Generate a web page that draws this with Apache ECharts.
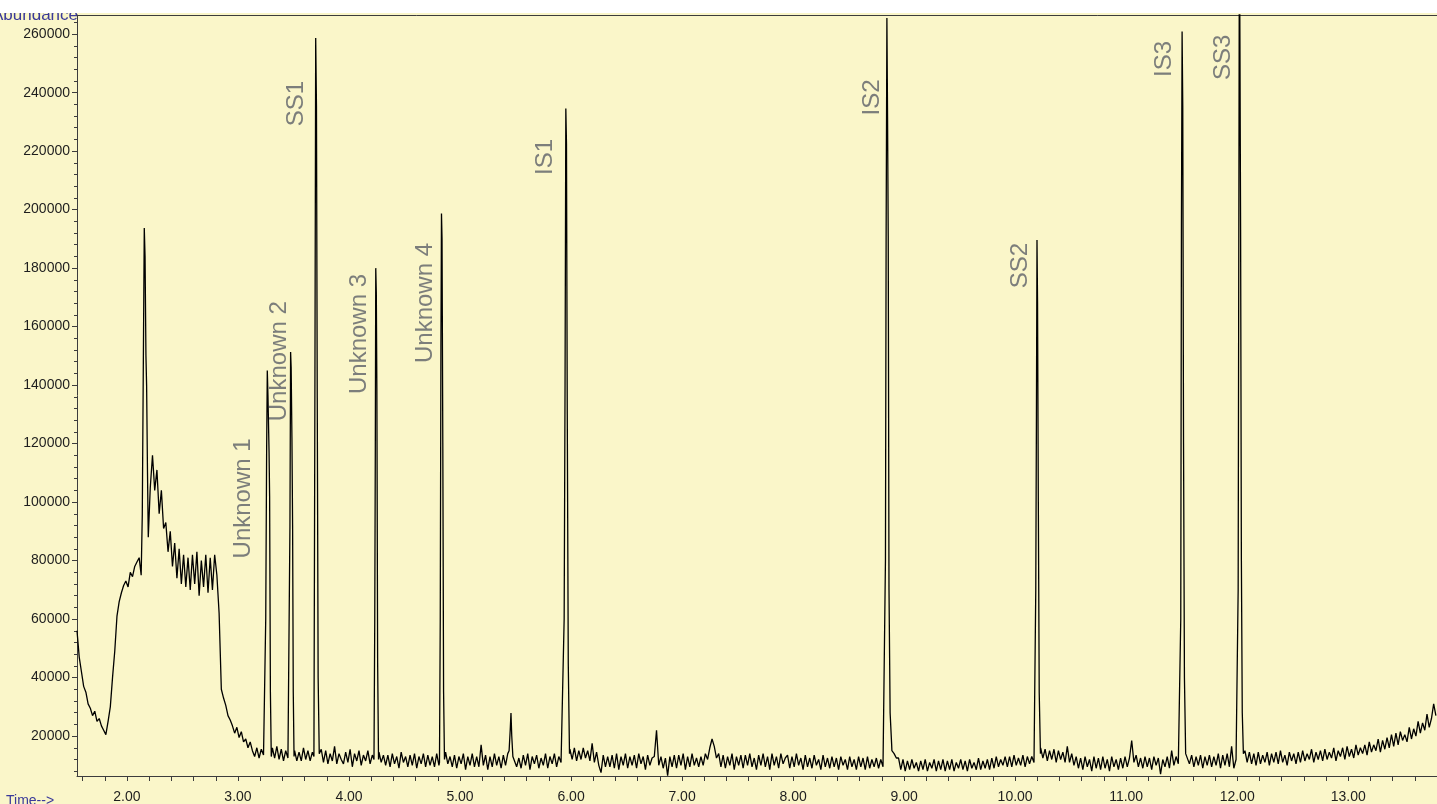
<!DOCTYPE html>
<html>
<head>
<meta charset="utf-8">
<title>Total ion chromatogram</title>
<script src="https://cdn.jsdelivr.net/npm/echarts@6/dist/echarts.min.js"></script>
<style>
  html, body { margin: 0; padding: 0; background: #ffffff; }
  #chart { position: absolute; left: 0; top: 13px; width: 1437px; height: 791px; }
</style>
</head>
<body>
<div id="chart"></div>
<script>
const PAPER = "#faf6c9"
const AXIS = "#3c3c3c"
const INK = "#000000"
const LABEL_GRAY = "#5c6068"
const TITLE_BLUE = "#3a3a9a"
const FONT = "\"Liberation Sans\", Arial, sans-serif"

const TIME_MIN = 1.55
const TIME_MAX = 13.8
const ABUNDANCE_MIN = 6350
const ABUNDANCE_MAX = 266550

// baseline trace, one reading every 0.02 min from 1.55, abundance in thousands
// null = that stretch is drawn by the detailed peak trace below
const sampleStart = 1.55
const sampleStep = 0.02
const baseline = [
  56, 47, 42, 37, 35, 31, 29.5, 27, 28.5, 25,
  26, 23.5, 22, 20.5, 25, 30, 40, 49, 61, 66,
  69, 71.5, 73, 71, 76, 74.5, 78, 79.5, 81, null,
  null, null, null, 105, 116, 104, 111, 96, 104, 91,
  93, 83, 90, 78, 86, 74, 84, 72, 82, 71,
  81, 70, 82, 72, 83, 68, 80, 71, 82, 69,
  81, 70, 82, 75, 62, 36, 33, 30.5, 27, 25.5,
  23.5, 21, 23, 19.5, 21.5, 18, 19, 16, 18, 15,
  13, 16, 12.5, 15.5, 13.5, null, null, null, 16, 12.5,
  16.5, 12, 15.5, 11.5, 15, 12.5, null, null, 15, 11.5,
  14.5, 11.5, 16, 12, 15, 11.5, 14.5, null, null, null,
  15.5, 11, 15, 10.5, 14, 11.5, 16.5, 10.5, 14, 12,
  10.5, 14.5, 11, 15.5, 9.5, 14, 11.5, 15, 10, 13.5,
  11.5, 15, 10.5, 13.5, null, null, 14.5, 11, 13.5, 10,
  13.5, 9.5, 14, 10.5, 13, 9, 14.5, 11, 13, 9.5,
  13.5, 10, 14, 9, 13, 10.5, 14, 9.5, 13.5, 10,
  13, 9.5, 14, 10, null, null, 14.5, 10.5, 13, 9.5,
  13.5, 9, 13, 10.5, 14, 8.5, 13, 10, 14, 9.5,
  13, 9.5, 17, 10, 13.5, 8.5, 13, 9.5, 14, 10,
  13, 9, 13.5, 10, 14, null, null, 13.5, 9.5, 12.5,
  9, 13.5, 10, 14, 8.5, 13, 10.5, 13.5, 9, 12.5,
  10, 14, 9, 13, 10.5, 14, 9.5, 13, 11, null,
  null, null, 15.5, 12, 16, 11.5, 15, 12, 16, 12.5,
  15, 11.5, 17.5, 11, 14.5, 10, 7.5, 13.5, 9.5, 13,
  9.5, 13.5, 9, 14, 8.5, 13, 10, 14, 9, 13,
  10, 13.5, 9, 14, 10.5, 13, 8.5, 13.5, 10, 12.5,
  13, 22, 10, 13, 9, 12.5, 6.5, 13, 9.5, 13.5,
  9, 13.5, 10, 14, 8.5, 13, 9.5, 14, 10, 12.5,
  9.5, 13, 10, 14, 12, 16, 19, 16.5, 12.5, 14,
  9.5, 13.5, 9, 13, 10, 14, 8.5, 13, 10, 13.5,
  9, 13.5, 10, 14, 9.5, 12.5, 8.5, 13.5, 10, 14,
  9.5, 13, 8.5, 14, 10, 13, 9, 14, 10.5, 12.5,
  13.5, 9, 13, 9.5, 14, 10, 12.5, 8.5, 13.5, 9.5,
  12.5, 9, 13.5, 10, 12, 8.5, 13.5, 9.5, 12.5, 9,
  13, 9.5, 12.5, 8.5, 13, 10, 12, 8.5, 13, 9.5,
  12, 8.5, 13, 9.5, 12.5, 8.5, 13, 9, 12, 9.5,
  12.5, 9, 12, 9.5, null, null, null, 15, 14, 12.5,
  12.5, 8.5, 12, 8, 11.5, 8.5, 12, 9, 11, 8,
  11.5, 8.5, 12, 8, 11, 9, 12, 8, 11.5, 8.5,
  12, 8, 11.5, 8.5, 12, 8, 11, 9, 12, 8.5,
  11.5, 8, 12, 9, 11, 8.5, 12.5, 8.5, 11.5, 9,
  12, 8.5, 12.5, 9, 13, 9.5, 12, 10, 13, 9.5,
  13, 9.5, 13.5, 10, 12.5, 10, 13.5, 9.5, 13, 10.5,
  13, 11, null, null, 16, 12.5, 15.5, 11.5, 15, 12,
  15.5, 11, 15, 12, 14.5, 11, 16.5, 11, 14, 10,
  13, 9, 12.5, 8.5, 13, 9.5, 12, 8, 13, 9,
  12.5, 8.5, 13, 9, 12, 8, 13, 9.5, 12, 8.5,
  12.5, 9, 13, 9.5, 12.5, 18.5, 11, 13.5, 9.5, 12.5,
  9, 13, 9.5, 12.5, 8.5, 13, 10, 12.5, 7, 12,
  9.5, 13, 9, 15, 10, 13, 10.5, null, null, null,
  14, 10.5, 13.5, 9.5, 13, 10, 13.5, 9, 13, 10,
  13.5, 9.5, 13, 10, 14, 9, 13.5, 10, 14, 9.5,
  16.5, 9, 12, null, null, null, 15, 11, 14.5, 10.5,
  14, 10, 14.5, 10.5, 13.5, 11, 14.5, 10, 14, 11,
  14.5, 10.5, 15, 11, 13.5, 10, 14.5, 11.5, 14, 10.5,
  14.5, 11, 15, 11.5, 14, 12, 15.5, 11, 14.5, 12,
  15, 11.5, 15.5, 12, 14.5, 12.5, 16, 11.5, 15, 13,
  16, 12, 16.5, 13, 15.5, 12.5, 17, 13.5, 16, 14,
  17, 13.5, 18, 14.5, 17, 15, 19, 14.5, 18.5, 15.5,
  19.5, 16, 20.5, 16.5, 21, 17, 21.5, 18.5, 20.5, 18,
  23, 19, 22.5, 20, 25, 21, 24.5, 22, 27.5, 23,
  26, 31, 27
]

// peaks read at finer spacing: [time (min), abundance in thousands]
const peakTraces = [
  [[2.128, 75], [2.138, 95.6], [2.147, 145], [2.156, 193.7], [2.163, 184], [2.171, 150], [2.177, 140], [2.185, 110], [2.192, 88]],
  [[3.238, 14], [3.25, 60], [3.258, 117], [3.264, 145], [3.27, 136.5], [3.28, 117], [3.285, 102], [3.292, 35], [3.3, 13]],
  [[3.458, 13], [3.468, 91.7], [3.474, 151.3], [3.479, 146], [3.486, 122], [3.492, 92], [3.498, 35], [3.505, 13]],
  [[3.684, 13], [3.693, 140], [3.7, 258.7], [3.707, 235.4], [3.714, 135.6], [3.722, 40], [3.732, 14]],
  [[4.225, 12], [4.232, 60], [4.237, 118], [4.241, 180], [4.246, 171.7], [4.251, 139], [4.258, 45], [4.266, 12]],
  [[4.815, 11], [4.822, 60], [4.828, 153], [4.833, 198.7], [4.838, 190], [4.845, 120], [4.852, 35], [4.86, 12]],
  [[5.442, 15], [5.452, 22], [5.459, 27.9], [5.466, 20], [5.476, 13]],
  [[5.928, 11], [5.938, 60], [5.946, 140], [5.953, 234.6], [5.959, 222.5], [5.966, 130], [5.975, 45], [5.986, 14]],
  [[8.822, 10], [8.832, 80], [8.838, 190], [8.845, 265.5], [8.851, 231.6], [8.857, 191], [8.864, 70], [8.874, 28], [8.888, 17]],
  [[10.178, 11], [10.186, 70], [10.192, 130], [10.197, 189.6], [10.202, 168.3], [10.209, 100], [10.217, 35], [10.228, 14]],
  [[11.486, 11], [11.492, 60], [11.498, 194.8], [11.504, 260.9], [11.51, 235.4], [11.517, 120], [11.525, 40], [11.536, 14]],
  [[12.002, 12], [12.009, 70], [12.015, 193], [12.02, 300], [12.025, 257], [12.031, 193], [12.038, 80], [12.046, 28], [12.056, 14]]
]

const peakNames = ["Unknown 1", "Unknown 2", "SS1", "Unknown 3", "Unknown 4", "IS1", "IS2", "SS2", "IS3", "SS3"]
const labelTimes = [3.045, 3.369, 3.525, 4.095, 4.685, 5.766, 8.712, 10.045, 11.347, 11.874]
const labelTops = [121800, 168700, 244000, 178000, 188600, 224200, 244500, 188600, 257700, 259800]

const timeTicks = [2, 3, 4, 5, 6, 7, 8, 9, 10, 11, 12, 13]
const abundanceTicks = [20000, 40000, 60000, 80000, 100000, 120000, 140000, 160000, 180000, 200000, 220000, 240000, 260000]

function buildTrace() {
  const points = []
  baseline.forEach((value, index) => {
    if (value === null) return
    points.push([round3(sampleStart + index * sampleStep), value * 1000])
  })
  peakTraces.forEach((trace) => {
    trace.forEach(([time, value]) => points.push([time, value * 1000]))
  })
  return points.sort((a, b) => a[0] - b[0])
}

function round3(value) {
  return Math.round(value * 1000) / 1000
}

function steps(from, to, step) {
  const values = []
  for (let v = from; v <= to + step / 2; v += step) values.push(round3(v))
  return values
}

const chart = echarts.init(document.getElementById("chart"), null, { renderer: "canvas" })

const axisText = { fontFamily: FONT, fontSize: 14, color: "#1e1e1e" }

chart.setOption({
  animation: false,
  backgroundColor: PAPER,
  grid: { left: 77, right: 0, top: 2, bottom: 21 },
  xAxis: [{
    type: "value",
    min: TIME_MIN,
    max: TIME_MAX,
    axisLine: { show: true, onZero: false, lineStyle: { color: AXIS, width: 1 } },
    axisTick: { show: true, customValues: steps(1.6, 13.8, 0.2), length: 5, lineStyle: { color: AXIS } },
    axisLabel: { ...axisText, customValues: timeTicks, margin: 14, formatter: (v) => v.toFixed(2) },
    splitLine: { show: false }
  }, {
    type: "value",
    position: "top",
    min: TIME_MIN,
    max: TIME_MAX,
    axisLine: { show: true, onZero: false, lineStyle: { color: AXIS, width: 1 } },
    axisTick: { show: false },
    axisLabel: { show: false },
    splitLine: { show: false }
  }],
  yAxis: [{
    type: "value",
    min: ABUNDANCE_MIN,
    max: ABUNDANCE_MAX,
    axisLine: { show: true, lineStyle: { color: AXIS, width: 1 } },
    axisTick: { show: true, customValues: abundanceTicks, length: 5, lineStyle: { color: AXIS } },
    axisLabel: { ...axisText, customValues: abundanceTicks, margin: 7, formatter: (v) => String(v) },
    splitLine: { show: false }
  }, {
    type: "value",
    position: "left",
    min: ABUNDANCE_MIN,
    max: ABUNDANCE_MAX,
    axisLine: { show: false },
    axisTick: { show: true, customValues: steps(8000, 264000, 4000), length: 3, lineStyle: { color: AXIS } },
    axisLabel: { show: false },
    splitLine: { show: false }
  }],
  series: [{
    type: "line",
    xAxisIndex: 0,
    yAxisIndex: 0,
    data: buildTrace(),
    showSymbol: false,
    symbol: "none",
    clip: true,
    lineStyle: { color: INK, width: 1.3 },
    silent: true
  }, {
    type: "scatter",
    xAxisIndex: 0,
    yAxisIndex: 0,
    symbol: "circle",
    symbolSize: 1,
    itemStyle: { color: "rgba(0,0,0,0)" },
    silent: true,
    data: peakNames.map((name, i) => ({ name, value: [labelTimes[i], labelTops[i]] })),
    label: {
      show: true,
      position: "inside",
      rotate: 90,
      align: "right",
      verticalAlign: "middle",
      formatter: "{b}",
      fontFamily: FONT,
      fontSize: 24,
      color: LABEL_GRAY
    }
  }],
  graphic: [{
    type: "text",
    x: 78,
    y: 10.5,
    style: {
      text: "Abundance",
      font: `17px ${FONT}`,
      fill: TITLE_BLUE,
      align: "right",
      textAlign: "right",
      verticalAlign: "bottom",
      textVerticalAlign: "bottom"
    }
  }, {
    type: "text",
    x: 6,
    y: 781,
    style: {
      text: "Time-->",
      font: `14px ${FONT}`,
      fill: TITLE_BLUE
    }
  }]
})
</script>
</body>
</html>
